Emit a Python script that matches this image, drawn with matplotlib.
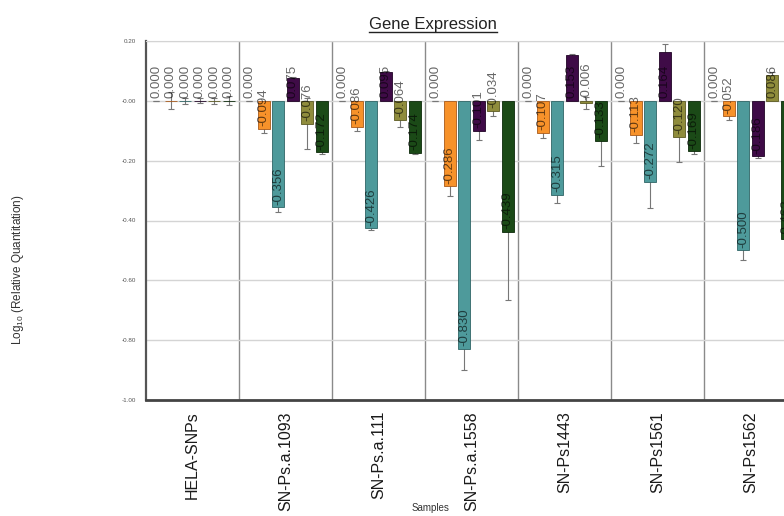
import numpy as np
import matplotlib
matplotlib.use('Agg')
import matplotlib.pyplot as plt
from matplotlib.lines import Line2D

plt.rcParams['font.family'] = ['Liberation Sans', 'DejaVu Sans']
plt.rcParams['mathtext.default'] = 'regular'

samples = ['HELA-SNPs', 'SN-Ps.a.1093', 'SN-Ps.a.111', 'SN-Ps.a.1558',
           'SN-Ps1443', 'SN-Ps1561', 'SN-Ps1562']

# six targets per sample (first one is the reference, always 0)
ref = [0.000, 0.000, 0.000, 0.000, 0.000, 0.000, 0.000]
orange = [0.000, -0.094, -0.086, -0.286, -0.107, -0.113, -0.052]
teal = [0.000, -0.356, -0.426, -0.830, -0.315, -0.272, -0.500]
purple = [0.000, 0.075, 0.095, -0.101, 0.153, 0.164, -0.186]
olive = [0.000, -0.076, -0.064, -0.034, -0.006, -0.120, 0.086]
dgreen = [0.000, -0.172, -0.174, -0.439, -0.133, -0.169, -0.463]

ref_err = [0, 0, 0, 0, 0, 0, 0]
orange_err = [0.028, 0.013, 0.016, 0.033, 0.016, 0.027, 0.011]
teal_err = [0.010, 0.014, 0.005, 0.070, 0.025, 0.085, 0.032]
purple_err = [0.008, 0.005, 0.005, 0.030, 0.005, 0.026, 0.005]
olive_err = [0.010, 0.084, 0.022, 0.016, 0.020, 0.086, 0.010]
dgreen_err = [0.015, 0.005, 0.005, 0.227, 0.086, 0.008, 0.020]

series = [ref, orange, teal, purple, olive, dgreen]
errors = [ref_err, orange_err, teal_err, purple_err, olive_err, dgreen_err]
colors = ['#ffffff', '#f7922a', '#4e9a9b', '#3f0b47', '#8f8c3c', '#1b4a17']
edges = ['#ffffff', '#a8591a', '#2f6566', '#200325', '#5c5a22', '#0c2a0a']

fig = plt.figure(figsize=(7.84, 5.16), dpi=100)
ax = fig.add_axes([146 / 784, 116 / 516, 651 / 784, 359 / 516])

x = np.arange(len(samples))
step = 0.156
width = 0.124
for k, (vals, errs) in enumerate(zip(series, errors)):
    pos = x + (k - 2.5) * step
    if k > 0:
        ax.bar(pos, vals, width, color=colors[k], edgecolor=edges[k],
               linewidth=0.6, zorder=3)
    ax.errorbar(pos, vals, yerr=errs, fmt='none', ecolor='#777777',
                elinewidth=0.8, capsize=2.5, capthick=0.8, zorder=2)
    for p, v in zip(pos, vals):
        ax.annotate(f'{v:.3f}', (p, min(v, 0)), xytext=(0, 2),
                    textcoords='offset points', rotation=90,
                    ha='center', va='bottom', fontsize=9.5,
                    color='black', alpha=0.6, zorder=5)

ax.set_xlim(-0.5, len(samples) - 0.5)
ax.set_ylim(-1.0, 0.2)
yt = np.arange(-1.0, 0.21, 0.2)
ax.set_yticks(yt)
ax.set_yticklabels([f'{t:.2f}' for t in yt], fontsize=4.5, color='#555555')
ax.set_xticks(x)
ax.set_xticklabels(samples, rotation=90, fontsize=11.5, color='#1a1a1a')
ax.tick_params(axis='both', length=0)
ax.tick_params(axis='x', pad=8)
ax.tick_params(axis='y', pad=7)

ax.grid(axis='y', color='#d4d4d4', linewidth=1.0, zorder=0)
for b in x[:-1] + 0.5:
    ax.axvline(b, color='#8a8a8a', linewidth=1.0, zorder=1)

ax.spines['right'].set_visible(False)
ax.spines['top'].set_color('#d4d4d4')
ax.spines['left'].set_color('#555555')
ax.spines['left'].set_linewidth(1.6)
ax.spines['bottom'].set_color('#444444')
ax.spines['bottom'].set_linewidth(2.0)

fig.text(430 / 784, 3 / 516, 'Samples', ha='center', va='bottom',
         fontsize=7, color='#333333')
fig.text(18 / 784, 246 / 516, 'Log$_{10}$ (Relative Quantitation)', rotation=90,
         ha='center', va='center', fontsize=8.5, color='#333333')

title = fig.text(433 / 784, 487 / 516, 'Gene Expression', ha='center',
                 va='baseline', fontsize=12, color='#222222')
fig.canvas.draw()
bb = title.get_window_extent().transformed(fig.transFigure.inverted())
fig.add_artist(Line2D([bb.x0, bb.x1], [487 / 516 - 3 / 516] * 2,
                      transform=fig.transFigure, color='#222222', linewidth=1.0))

plt.savefig('out.png', dpi=100)
